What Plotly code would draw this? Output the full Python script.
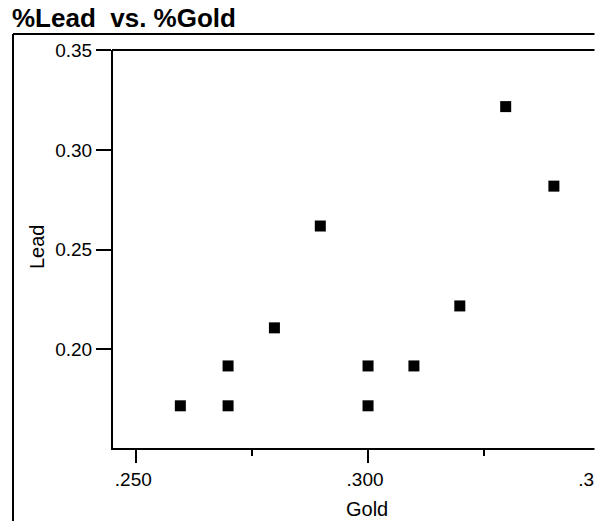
import plotly.graph_objects as go

# Data
gold = [0.2595, 0.2698, 0.2698, 0.2798, 0.2897, 0.3000, 0.3000, 0.3099, 0.3198, 0.3297, 0.3401]
lead = [0.1716, 0.1916, 0.1716, 0.2107, 0.2618, 0.1916, 0.1716, 0.1916, 0.2217, 0.3217, 0.2818]

x_tickvals = [0.25, 0.30, 0.35]
x_ticktext = [".250", ".300", ".350"]
x_minor = [0.275, 0.325]
y_tickvals = [0.20, 0.25, 0.30, 0.35]
y_ticktext = ["0.20", "0.25", "0.30", "0.35"]

FONT = "Arial, Liberation Sans, sans-serif"
W, H = 600, 521
ML, MT = 113, 50
MR = 0
MB = 73
PW = W - ML - MR
PH = H - MT - MB


def px(x):
    return (x - ML) / PW


def py(y):
    return (H - MB - y) / PH


fig = go.Figure()
fig.add_trace(go.Scatter(
    x=gold, y=lead, mode="markers",
    marker=dict(symbol="square", size=11, color="black", line=dict(width=0)),
    showlegend=False, hoverinfo="skip",
))

fig.update_layout(
    width=W, height=H,
    margin=dict(l=ML, r=MR, t=MT, b=MB, pad=0, autoexpand=False),
    paper_bgcolor="white", plot_bgcolor="white",
    font=dict(family=FONT, color="black", size=19),
    title=dict(text="<b>%Lead  vs. %Gold</b>", font=dict(size=26, family=FONT, color="black"),
               x=12 / W, xanchor="left", xref="container",
               y=1 - 27 / H, yanchor="bottom", yref="container",
               automargin=False),
    xaxis=dict(
        range=[0.24497, 0.35005], showgrid=False, zeroline=False, automargin=False,
        showline=True, linecolor="black", linewidth=2, mirror=False,
        ticks="outside", ticklen=13, tickwidth=2, tickcolor="black",
        tickmode="array", tickvals=x_tickvals, ticktext=x_ticktext,
        tickfont=dict(size=19, family=FONT), ticklabeloverflow="allow",
        ticklabelshift=-3,
        minor=dict(tickmode="array", tickvals=x_minor, ticks="outside",
                   ticklen=6, tickwidth=2, tickcolor="black", showgrid=False),
    ),
    yaxis=dict(
        range=[0.15043, 0.3501], showgrid=False, zeroline=False, automargin=False,
        showline=True, linecolor="black", linewidth=2, mirror=False,
        ticks="outside", ticklen=15, tickwidth=2, tickcolor="black",
        tickmode="array", tickvals=y_tickvals, ticktext=y_ticktext,
        tickfont=dict(size=19, family=FONT),
    ),
    annotations=[
        dict(text="Gold", xref="paper", yref="paper",
             x=px(367), y=py(509),
             xanchor="center", yanchor="middle", showarrow=False,
             font=dict(size=20, family=FONT, color="black")),
        dict(text="Lead", xref="paper", yref="paper", textangle=-90,
             x=px(37), y=py(247),
             xanchor="center", yanchor="middle", showarrow=False,
             font=dict(size=20, family=FONT, color="black")),
    ],
    shapes=[
        # top edge of the plotting area
        dict(type="line", xref="paper", yref="paper", layer="above",
             x0=px(112), x1=px(640), y0=py(50), y1=py(50),
             line=dict(color="black", width=2)),
        # outer frame: left and top edges
        dict(type="line", xref="paper", yref="paper", layer="above",
             x0=px(13), x1=px(13), y0=py(34), y1=py(560),
             line=dict(color="black", width=2)),
        dict(type="line", xref="paper", yref="paper", layer="above",
             x0=px(13), x1=px(640), y0=py(34), y1=py(34),
             line=dict(color="black", width=2)),
        # the reference picture is cropped a few pixels before its right edge
        dict(type="rect", xref="paper", yref="paper", layer="above",
             x0=px(594.5), x1=px(640), y0=py(-20), y1=py(560),
             fillcolor="white", line=dict(width=0)),
    ],
)

fig.write_html(
    "out.html",
    config={"displayModeBar": False},
    post_script="document.body.style.margin='0';"
                "document.documentElement.style.overflow='hidden';"
                "document.body.style.overflow='hidden';",
)
